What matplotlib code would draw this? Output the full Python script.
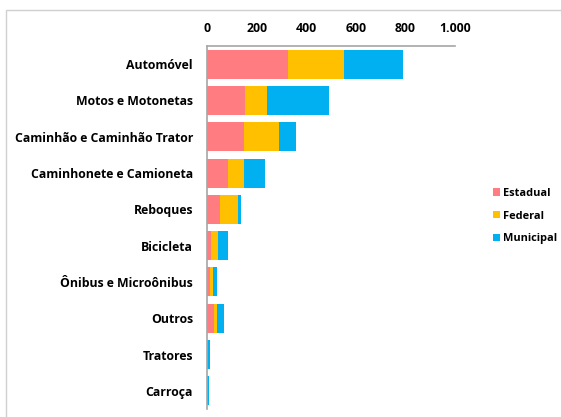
import matplotlib
matplotlib.use("Agg")
import matplotlib.pyplot as plt
from matplotlib.patches import Rectangle

categorias = ["Automóvel", "Motos e Motonetas", "Caminhão e Caminhão Trator",
              "Caminhonete e Camioneta", "Reboques", "Bicicleta",
              "Ônibus e Microônibus", "Outros", "Tratores", "Carroça"]
estadual = [325, 153, 149, 85, 54, 16, 12, 28, 1, 1]
federal = [226, 88, 143, 63, 70, 27, 11, 12, 1, 0]
municipal = [239, 251, 68, 87, 12, 42, 17, 27, 10, 6]
ticks = [0, 200, 400, 600, 800, 1000]
tick_labels = ["0", "200", "400", "600", "800", "1.000"]

plt.rcParams['font.family'] = ['Open Sans', 'DejaVu Sans']
plt.rcParams['font.weight'] = 'bold'

fig = plt.figure(figsize=(5.61, 4.17), dpi=100)
# moldura cinza em volta do grafico
fig.patches.append(Rectangle((6 / 561, -0.1), 1.1, (417 - 10) / 417 + 0.1,
                             transform=fig.transFigure, fill=False,
                             edgecolor="#D0D0D0", linewidth=1))

ax = fig.add_axes([207 / 561, 8 / 417, 248 / 561, 363 / 417])
y = list(range(len(categorias)))
left2 = [a + b for a, b in zip(estadual, federal)]
ax.barh(y, estadual, height=0.8, color="#FF7C80", label="Estadual")
ax.barh(y, federal, left=estadual, height=0.8, color="#FFC000", label="Federal")
ax.barh(y, municipal, left=left2, height=0.8, color="#00B0F0", label="Municipal")

ax.set_ylim(len(categorias) - 0.5, -0.5)
ax.set_xlim(0, 1000)
ax.set_yticks(y)
ax.set_yticklabels(categorias, fontsize=8.8, fontweight='bold')
ax.xaxis.tick_top()
ax.set_xticks(ticks)
ax.set_xticklabels(tick_labels, fontsize=8.8, fontweight='bold')
ax.tick_params(axis='both', length=0)
ax.tick_params(axis='y', pad=10)
ax.tick_params(axis='x', pad=8)

for s in ["right", "bottom"]:
    ax.spines[s].set_visible(False)
for s in ["top", "left"]:
    ax.spines[s].set_color("#A6A6A6")
    ax.spines[s].set_linewidth(1.2)

ax.legend(loc="center left", bbox_to_anchor=(493 / 561, (417 - 216) / 417),
          bbox_transform=fig.transFigure, frameon=False, fontsize=7.9,
          handlelength=0.65, handleheight=0.65, handletextpad=0.3,
          labelspacing=1.05, borderpad=0, borderaxespad=0)

fig.savefig("out.png", dpi=100)
